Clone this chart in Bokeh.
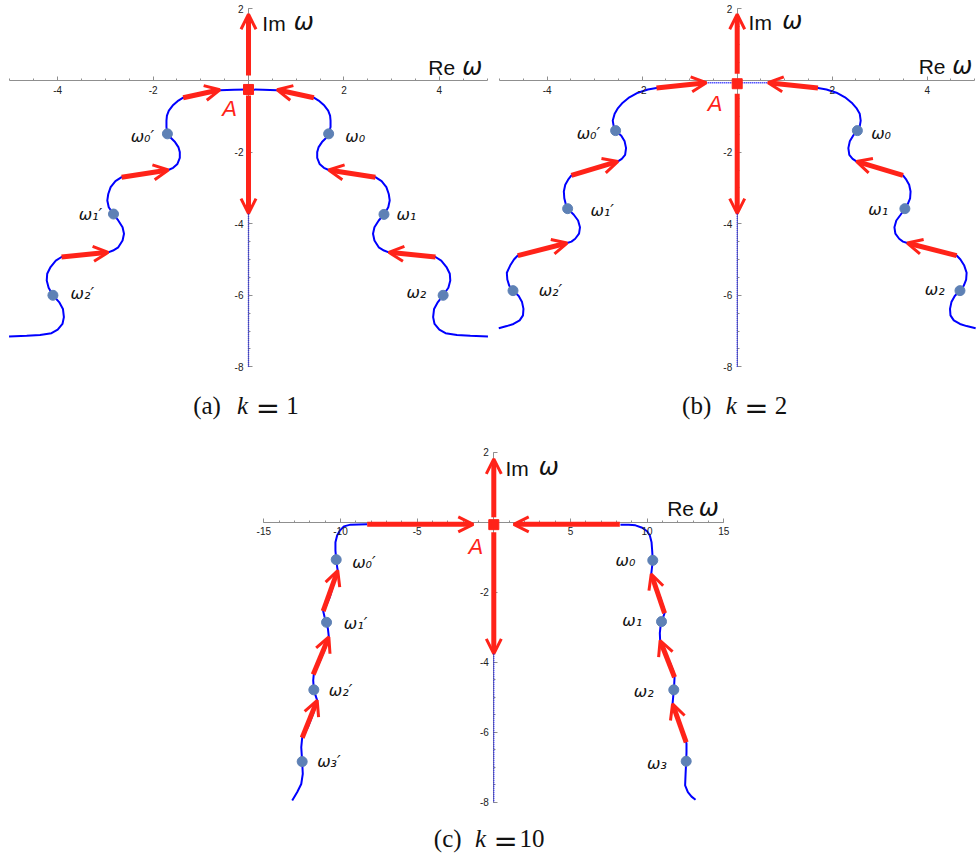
from bokeh.plotting import figure
from bokeh.models import Range1d, LinearAxis, FixedTicker, Arrow, OpenHead, ColumnDataSource, Spacer
from bokeh.layouts import column, row
from bokeh.core.properties import value
from bokeh.embed import file_html
from bokeh.resources import INLINE

# ---------------- data: panel (a) k = 1 ----------------
a_right_x = [0.0, 0.3, 0.6, 1.37, 1.47, 1.59, 1.67, 1.71, 1.72, 1.72, 1.68, 1.63, 1.54, 1.47, 1.44, 1.44, 1.49, 1.58, 1.68,
             2.66, 2.79, 2.89, 2.94, 2.96, 2.93, 2.84, 2.73, 2.64, 2.61, 2.64, 2.73, 2.84, 2.94,
             3.92, 4.04, 4.15, 4.22, 4.23, 4.19, 4.08, 3.97, 3.89, 3.87, 3.90, 4.00, 4.13, 4.37, 4.65, 5.02]
a_right_y = [-0.25, -0.26, -0.27, -0.48, -0.56, -0.70, -0.84, -0.98, -1.12, -1.30, -1.49, -1.60, -1.72, -1.86, -2.00, -2.16, -2.33, -2.44, -2.50,
             -2.70, -2.81, -2.98, -3.17, -3.35, -3.54, -3.74, -3.91, -4.10, -4.28, -4.47, -4.66, -4.75, -4.80,
             -4.93, -5.03, -5.21, -5.40, -5.59, -5.79, -6.00, -6.19, -6.38, -6.61, -6.80, -6.96, -7.06, -7.11, -7.13, -7.15]
a_left_x = [0.0, -0.3, -0.6, -1.37, -1.47, -1.59, -1.67, -1.71, -1.72, -1.72, -1.70, -1.63, -1.54, -1.47, -1.44, -1.44, -1.49, -1.58, -1.68,
            -2.66, -2.79, -2.89, -2.94, -2.96, -2.93, -2.83, -2.73, -2.64, -2.61, -2.64, -2.73, -2.84, -2.94,
            -3.92, -4.04, -4.15, -4.22, -4.23, -4.19, -4.10, -3.97, -3.89, -3.87, -3.90, -4.00, -4.13, -4.37, -4.65, -5.02]
a_left_y = a_right_y
a_pts_x = [1.68, 2.84, 4.08, -1.70, -2.83, -4.10]
a_pts_y = [-1.49, -3.74, -6.00, -1.49, -3.73, -6.00]
a_labels = ["ω₀", "ω₁", "ω₂", "ω₀′", "ω₁′", "ω₂′"]
a_arrow_x0 = [1.37, 2.66, 3.92, -1.37, -2.66, -3.92, 0.0, 0.0]
a_arrow_y0 = [-0.48, -2.70, -4.93, -0.48, -2.70, -4.93, 0.14, -0.42]
a_arrow_x1 = [0.60, 1.68, 2.94, -0.60, -1.68, -2.94, 0.0, 0.0]
a_arrow_y1 = [-0.26, -2.50, -4.80, -0.26, -2.50, -4.80, 1.85, -3.72]
a_point_A = ([0.0], [-0.25])
a_cut_x = [0.0, 0.0]
a_cut_y = [-3.72, -8.0]

# ---------------- data: panel (b) k = 2 ----------------
b_right_x = [0.65, 1.70, 1.88, 2.09, 2.27, 2.41, 2.51, 2.58, 2.60, 2.58, 2.53, 2.44, 2.37, 2.34, 2.36, 2.43, 2.51,
             3.49, 3.56, 3.62, 3.65, 3.64, 3.59, 3.53, 3.44, 3.35, 3.31, 3.33, 3.41, 3.49, 3.58,
             4.62, 4.70, 4.78, 4.83, 4.82, 4.77, 4.69, 4.58, 4.51, 4.48, 4.49, 4.56, 4.69, 4.83, 5.02]
b_right_y = [-0.06, -0.21, -0.25, -0.34, -0.47, -0.62, -0.77, -0.93, -1.12, -1.28, -1.40, -1.54, -1.70, -1.89, -2.08, -2.19, -2.26,
             -2.65, -2.77, -2.91, -3.10, -3.29, -3.45, -3.58, -3.75, -3.91, -4.10, -4.28, -4.42, -4.50, -4.54,
             -4.89, -5.00, -5.17, -5.37, -5.56, -5.73, -5.87, -6.02, -6.19, -6.38, -6.56, -6.70, -6.80, -6.86, -6.92]
b_left_x = [-0.65, -1.70, -1.88, -2.09, -2.27, -2.41, -2.51, -2.58, -2.62, -2.60, -2.56, -2.44, -2.37, -2.34, -2.36, -2.43, -2.51,
            -3.49, -3.56, -3.62, -3.65, -3.64, -3.61, -3.57, -3.44, -3.35, -3.31, -3.33, -3.41, -3.49, -3.58,
            -4.62, -4.70, -4.78, -4.85, -4.84, -4.80, -4.72, -4.60, -4.53, -4.50, -4.51, -4.58, -4.71, -4.85, -5.02]
b_left_y = b_right_y
b_pts_x = [2.53, 3.53, 4.69, -2.56, -3.57, -4.72]
b_pts_y = [-1.40, -3.58, -5.87, -1.40, -3.58, -5.87]
b_labels = ["ω₀", "ω₁", "ω₂", "ω₀′", "ω₁′", "ω₂′"]
b_arrow_x0 = [1.70, 3.49, 4.62, -1.70, -3.49, -4.62, 0.0, 0.0]
b_arrow_y0 = [-0.21, -2.65, -4.89, -0.21, -2.65, -4.89, 0.19, -0.37]
b_arrow_x1 = [0.65, 2.51, 3.58, -0.65, -2.51, -3.58, 0.0, 0.0]
b_arrow_y1 = [-0.06, -2.26, -4.54, -0.06, -2.26, -4.54, 1.85, -3.72]
b_point_A = ([0.0], [-0.09])
b_flat_x = [-0.65, 0.65]
b_flat_y = [-0.06, -0.06]
b_cut_x = [0.0, 0.0]
b_cut_y = [-3.72, -8.0]

# ---------------- data: panel (c) k = 10 ----------------
c_right_x = [8.26, 8.81, 9.24, 9.68, 10.00, 10.18, 10.29, 10.33, 10.37, 10.31, 10.27, 10.55, 10.87, 11.09, 11.14,
             11.05, 10.94, 10.87, 10.83, 10.85, 11.09, 11.48, 11.70, 11.79, 11.77, 11.74, 11.70, 11.66,
             11.85, 12.18, 12.46, 12.57, 12.57, 12.55, 12.51, 12.48, 12.66, 12.90, 13.16]
c_right_y = [-0.07, -0.07, -0.09, -0.16, -0.26, -0.38, -0.57, -0.81, -1.09, -1.33, -1.48, -1.81, -2.16, -2.47, -2.60,
             -2.71, -2.84, -3.00, -3.17, -3.38, -3.67, -4.00, -4.24, -4.43, -4.62, -4.79, -5.00, -5.19,
             -5.52, -5.84, -6.09, -6.33, -6.57, -6.83, -7.19, -7.52, -7.71, -7.84, -7.93]
c_left_x = [-8.26, -9.35, -9.78, -10.04, -10.22, -10.33, -10.33, -10.28, -10.22, -10.18, -10.44, -10.70, -10.98, -11.13,
            -11.05, -10.91, -10.82, -10.76, -11.05, -11.42, -11.74, -11.78, -11.74, -11.63, -11.52,
            -11.78, -12.13, -12.50, -12.56, -12.50, -12.46, -12.56, -12.82, -13.15]
c_left_y = [-0.06, -0.07, -0.12, -0.24, -0.38, -0.57, -0.81, -1.07, -1.28, -1.38, -1.76, -2.14, -2.43, -2.54,
            -2.69, -2.86, -3.05, -3.28, -3.67, -4.05, -4.33, -4.52, -4.79, -4.95, -5.09,
            -5.47, -5.86, -6.16, -6.43, -6.84, -7.19, -7.48, -7.71, -7.95]
c_pts_x = [10.37, 10.94, 11.74, 12.55, -10.28, -10.91, -11.74, -12.50]
c_pts_y = [-1.09, -2.84, -4.79, -6.83, -1.07, -2.86, -4.79, -6.84]
c_labels = ["ω₀", "ω₁", "ω₂", "ω₃", "ω₀′", "ω₁′", "ω₂′", "ω₃′"]
c_arrow_x0 = [8.22, -8.26, 11.14, 11.79, 12.55, -11.13, -11.78, -12.50, 0.0, 0.0]
c_arrow_y0 = [-0.06, -0.06, -2.60, -4.43, -6.29, -2.54, -4.35, -6.16, 0.14, -0.29]
c_arrow_x1 = [1.30, -1.34, 10.27, 10.85, 11.66, -10.18, -10.76, -11.52, 0.0, 0.0]
c_arrow_y1 = [-0.06, -0.06, -1.48, -3.38, -5.19, -1.38, -3.28, -5.09, 1.81, -3.76]
c_point_A = ([0.0], [-0.07])
c_cut_x = [0.0, 0.0]
c_cut_y = [-3.76, -8.0]

# ---------------- axes and captions ----------------
ab_xticks = [-4, -2, 2, 4]
c_xticks = [-15, -10, -5, 5, 10, 15]
y_ticks = [2, -2, -4, -6, -8]
ab_xminor = [v / 2 for v in range(-10, 11)]
c_xminor = list(range(-15, 16))
y_minor = [v / 2 for v in range(-16, 5)]
axis_words = ["Im", "Re"]
omega = "ω"
caption_tags = ["(a)", "(b)", "(c)"]
k_values = ["1", "2", "10"]
point_label = "A"

RED = "#ff2319"
BLUE = "#0000ff"
PT = "#5e81b5"
AXC = "#8f8f8f"
INK = "#111111"


def make_axis(ticks, minor, bounds):
    return LinearAxis(
        fixed_location=0,
        ticker=FixedTicker(ticks=ticks, minor_ticks=minor),
        bounds=bounds,
        axis_line_color=AXC, axis_line_width=1,
        major_tick_line_color=AXC, minor_tick_line_color=AXC,
        major_tick_in=4, major_tick_out=0, minor_tick_in=2, minor_tick_out=0,
        major_label_text_font="Liberation Sans", major_label_text_font_size="10px",
        major_label_text_color="#222222", major_label_standoff=5,
        major_label_overrides={t: str(t) for t in ticks},
    )


def make_panel(width, height, xr, yr, xticks, xminor, xbounds, curves, flats, cut, pts, labels, label_pos,
               arrows, A, A_pos, im_pos, re_pos, cap_idx, cap_pos, cap_y):
    p = figure(width=width, height=height, x_range=Range1d(*xr), y_range=Range1d(*yr),
               x_axis_type=None, y_axis_type=None, output_backend="svg", toolbar_location=None,
               min_border=0, outline_line_color=None)
    p.add_layout(make_axis(xticks, xminor, xbounds), "below")
    p.add_layout(make_axis(y_ticks, y_minor, (-8, 2)), "left")

    ppu = height / (yr[1] - yr[0])   # pixels per y unit

    def lift(ys, size_px, extra_px=0.0):
        # place the text baseline where the reference shows it
        return [y + (0.33 * size_px + extra_px) / ppu for y in ys]

    for cx, cy in curves:
        p.line(cx, cy, line_color=BLUE, line_width=2)
    for fx, fy in flats:
        p.line(fx, fy, line_color=BLUE, line_width=1.5, line_dash="1 1")
    r = p.line(cut[0], cut[1], line_color=BLUE, line_width=1.5, line_dash="1 1", line_alpha=0.8)
    r.level = "overlay"

    src = ColumnDataSource(dict(x0=arrows[0], y0=arrows[1], x1=arrows[2], y1=arrows[3]))
    p.add_layout(Arrow(end=OpenHead(line_color=RED, line_width=3, size=15),
                       x_start="x0", y_start="y0", x_end="x1", y_end="y1", source=src,
                       line_color=RED, line_width=5))

    p.scatter(pts[0], pts[1], size=10, fill_color=PT, line_color=PT)
    p.text(label_pos[0], lift(label_pos[1], 16), text=labels, text_font=value("DejaVu Sans"),
           text_font_style="italic", text_font_size="16px", text_align="left",
           text_baseline="alphabetic", text_color=INK)

    sq = p.scatter(A[0], A[1], marker="square", size=10, fill_color=RED, line_color=RED)
    sq.level = "overlay"
    p.text([A_pos[0]], lift([A_pos[1]], 22), text=[point_label], text_font=value("Liberation Sans"),
           text_font_style="italic", text_font_size="22px", text_color=RED,
           text_align="left", text_baseline="alphabetic")

    # axis names
    p.text([im_pos[0], re_pos[0]], lift([im_pos[1], re_pos[1]], 21), text=axis_words,
           text_font=value("Liberation Sans"), text_font_size="21px", text_color=INK,
           text_align="left", text_baseline="alphabetic")
    p.text([im_pos[2], re_pos[2]], lift([im_pos[1], re_pos[1]], 24), text=[omega, omega],
           text_font=value("DejaVu Sans"), text_font_style="italic", text_font_size="24px",
           text_color=INK, text_align="left", text_baseline="alphabetic")

    # caption
    p.text([cap_pos[0], cap_pos[3]], lift([cap_y, cap_y], 25),
           text=[caption_tags[cap_idx], k_values[cap_idx]],
           text_font=value("Liberation Serif"), text_font_size="25px", text_color=INK,
           text_align="left", text_baseline="alphabetic")
    p.text([cap_pos[1]], lift([cap_y], 25), text=["k"], text_font=value("Liberation Serif"),
           text_font_style="italic", text_font_size="25px", text_color=INK,
           text_align="left", text_baseline="alphabetic")
    p.text([cap_pos[2]], lift([cap_y], 29, -4), text=["="], text_font=value("DejaVu Serif"),
           text_font_size="29px", text_color=INK, text_align="left", text_baseline="alphabetic")
    return p


pa = make_panel(
    488, 430, (-5.199, 5.031), (-9.777, 2.235), ab_xticks, ab_xminor, (-5, 5),
    [(a_right_x, a_right_y), (a_left_x, a_left_y)], [], (a_cut_x, a_cut_y),
    (a_pts_x, a_pts_y), a_labels,
    ([2.03, 3.10, 3.31, -2.47, -3.56, -3.73], [-1.72, -3.90, -6.07, -1.70, -3.88, -6.10]),
    (a_arrow_x0, a_arrow_y0, a_arrow_x1, a_arrow_y1), a_point_A, (-0.55, -0.98),
    (0.29, 1.40, 0.95), (3.77, 0.17, 4.48), 0, (-1.16, -0.24, 0.15, 0.79), -9.30)

pb = make_panel(
    489, 430, (-5.236, 5.059), (-9.777, 2.235), ab_xticks, ab_xminor, (-5, 5),
    [(b_right_x, b_right_y), (b_left_x, b_left_y)], [(b_flat_x, b_flat_y)], (b_cut_x, b_cut_y),
    (b_pts_x, b_pts_y), b_labels,
    ([2.82, 2.76, 3.95, -3.38, -3.09, -4.18], [-1.62, -3.74, -5.98, -1.63, -3.77, -6.00]),
    (b_arrow_x0, b_arrow_y0, b_arrow_x1, b_arrow_y1), b_point_A, (-0.62, -0.84),
    (0.24, 1.44, 0.95), (3.82, 0.19, 4.53), 1, (-1.16, -0.24, 0.15, 0.79), -9.30)

pc = make_panel(
    480, 427, (-15.675, 15.636), (-9.58, 2.62), c_xticks, c_xminor, (-15, 15),
    [(c_right_x, c_right_y), (c_left_x, c_left_y)], [], (c_cut_x, c_cut_y),
    (c_pts_x, c_pts_y), c_labels,
    ([7.94, 8.38, 9.13, 10.0, -9.24, -9.78, -10.76, -11.52], [-1.24, -2.95, -5.00, -7.05, -1.29, -3.05, -4.95, -7.00]),
    (c_arrow_x0, c_arrow_y0, c_arrow_x1, c_arrow_y1), c_point_A, (-1.65, -0.90),
    (0.76, 1.35, 2.94), (11.31, 0.19, 13.37), 2, (-3.91, -1.22, -0.02, 1.68), -9.266)

layout = column(row(pa, pb), row(Spacer(width=253, height=427), pc))
open("out.html", "w").write(file_html(layout, INLINE))
